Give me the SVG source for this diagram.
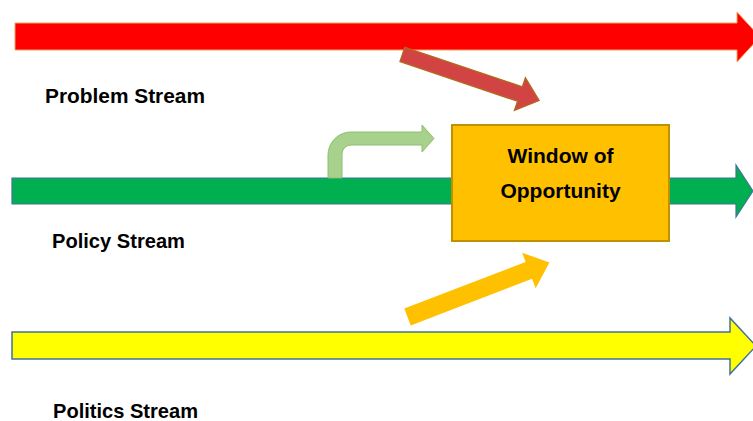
<svg xmlns="http://www.w3.org/2000/svg" width="753" height="421" viewBox="0 0 753 421">
<style>
.lbl{font-family:"Liberation Sans",Arial,sans-serif;font-weight:bold;font-size:21px;fill:#000}
.box{font-family:"Liberation Sans",Arial,sans-serif;font-weight:bold;font-size:21px;fill:#000;text-anchor:middle}
</style>
<rect width="753" height="421" fill="#fff"/>
<g id="problem-stream">
<polygon points="15,23 737,23 737,12 760,37 737,62 737,50 15,50" fill="#FF0000" stroke="#F4A460" stroke-width="1"/>
<text class="lbl" x="45" y="103" textLength="160" lengthAdjust="spacingAndGlyphs">Problem Stream</text>
</g>
<g id="policy-stream">
<polygon points="12,178 736,178 736,165 753,191 736,217 736,204 12,204" fill="#00B050" stroke="#41719C" stroke-width="1.2"/>
<text class="lbl" x="52" y="248" textLength="133" lengthAdjust="spacingAndGlyphs">Policy Stream</text>
</g>
<g id="politics-stream">
<polygon points="12,332 730,332 730,318 756,346 730,374 730,359 12,359" fill="#FFFF00" stroke="#41719C" stroke-width="1.5"/>
<text class="lbl" x="53" y="418" textLength="145" lengthAdjust="spacingAndGlyphs">Politics Stream</text>
</g>
<g id="connectors">
<polygon points="0,-7.5 124,-7.5 124,-17 144,0 124,17 124,7.5 0,7.5" transform="translate(402.5,54.5) rotate(18.6)" fill="#D24343" stroke="#B5651D" stroke-width="1.5"/>
<path d="M328,178 L328,155 A23,23 0 0 1 351,132 L422,132 L422,125 L434,138.5 L422,152 L422,145 L351,145 A9,9 0 0 0 342,154 L342,178 Z" fill="#A9D18E" stroke="#8CBF6A" stroke-width="1"/>
<polygon points="0,-9 130,-9 130,-19 152,0 130,19 130,9 0,9" transform="translate(407.5,317) rotate(-21)" fill="#FFC000"/>
</g>
<g id="window-of-opportunity">
<rect x="452" y="125" width="217" height="116" fill="#FFC000" stroke="#BF9000" stroke-width="2"/>
<text class="box" x="560.5" y="163">Window of</text>
<text class="box" x="560.5" y="198">Opportunity</text>
</g>
</svg>
